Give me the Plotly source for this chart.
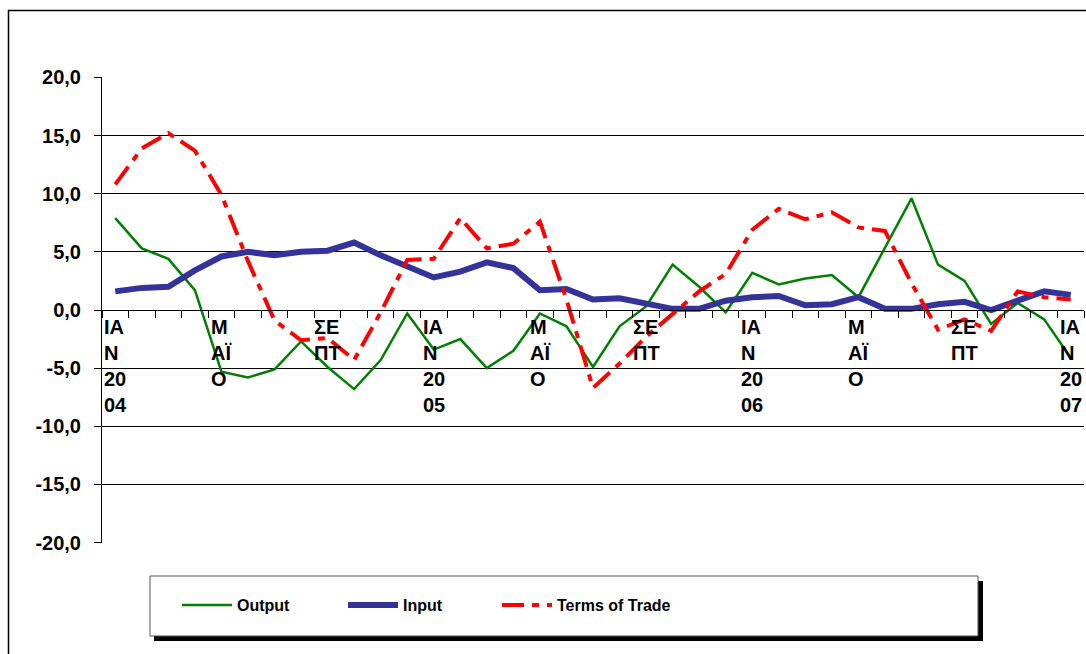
import plotly.graph_objects as go

months = [f"{y}-{m:02d}" for y in (2004, 2005, 2006) for m in range(1, 13)] + ["2007-01"]

output_vals = [7.9, 5.3, 4.4, 1.7, -5.3, -5.8, -5.1, -2.7, -4.9, -6.8, -4.3, -0.3,
               -3.4, -2.5, -5.0, -3.5, -0.3, -1.4, -4.9, -1.4, 0.3, 3.9, 2.0, -0.2,
               3.2, 2.2, 2.7, 3.0, 1.1, 5.4, 9.6, 3.9, 2.5, -1.2, 0.6, -0.8, -4.1]
input_vals = [1.6, 1.9, 2.0, 3.4, 4.6, 5.0, 4.7, 5.0, 5.1, 5.8, 4.7, 3.8,
              2.8, 3.3, 4.1, 3.6, 1.7, 1.8, 0.9, 1.0, 0.6, 0.1, 0.1, 0.8,
              1.1, 1.2, 0.4, 0.5, 1.1, 0.1, 0.1, 0.5, 0.7, 0.0, 0.8, 1.6, 1.3]
tot_vals = [10.8, 13.9, 15.2, 13.7, 9.9, 4.2, -0.9, -2.6, -2.4, -4.3, -0.2, 4.3,
            4.4, 7.9, 5.3, 5.7, 7.6, 0.9, -6.7, -4.6, -2.3, -0.3, 1.6, 3.1,
            6.9, 8.7, 7.8, 8.4, 7.1, 6.8, 2.3, -1.7, -0.8, -1.8, 1.6, 1.1, 0.9]

y_tick_vals = [-20, -15, -10, -5, 0, 5, 10, 15, 20]
y_tick_text = ["-20,0", "-15,0", "-10,0", "-5,0", "0,0", "5,0", "10,0", "15,0", "20,0"]

# category-axis labels (Greek month abbreviations, wrapped as in the original)
label_months = ["2004-01", "2004-05", "2004-09", "2005-01", "2005-05", "2005-09",
                "2006-01", "2006-05", "2006-09", "2007-01"]
label_texts = ["ΙΑ<br>Ν<br>20<br>04", "Μ<br>ΑΪ<br>Ο", "ΣΕ<br>ΠΤ",
               "ΙΑ<br>Ν<br>20<br>05", "Μ<br>ΑΪ<br>Ο", "ΣΕ<br>ΠΤ",
               "ΙΑ<br>Ν<br>20<br>06", "Μ<br>ΑΪ<br>Ο", "ΣΕ<br>ΠΤ",
               "ΙΑ<br>Ν<br>20<br>07"]

W, H = 1086, 654
L, T = 102, 77
R = W - 1084
B = H - 543
pw, ph = W - L - R, H - T - B

def px(x):  # page pixel -> paper x
    return (x - L) / pw

def py(y):  # page pixel -> paper y
    return (H - B - y) / ph

FONT = "Liberation Sans, Arial, sans-serif"
LEGFONT = dict(family=FONT, size=16, color="black", weight="bold")

fig = go.Figure()
fig.add_trace(go.Scatter(x=months, y=output_vals, name="Output", mode="lines",
                         line=dict(color="#008000", width=2.5), legend="legend"))
fig.add_trace(go.Scatter(x=months, y=input_vals, name="Input", mode="lines",
                         line=dict(color="#333399", width=6), legend="legend2"))
fig.add_trace(go.Scatter(x=months, y=tot_vals, name="Terms of Trade", mode="lines",
                         line=dict(color="#FF0000", width=4, dash="22px,8px,7px,8px"),
                         legend="legend3"))

shapes = [
    # outer chart border
    dict(type="rect", xref="paper", yref="paper", x0=px(8.5), x1=px(1100), y0=py(680), y1=py(10.5),
         line=dict(color="black", width=1.5), fillcolor="rgba(0,0,0,0)", layer="below"),
    # legend shadow and box
    dict(type="rect", xref="paper", yref="paper", x0=px(154), x1=px(983), y0=py(641), y1=py(581),
         line=dict(width=0), fillcolor="black", layer="below"),
    dict(type="rect", xref="paper", yref="paper", x0=px(150), x1=px(978), y0=py(636), y1=py(576),
         line=dict(color="#555555", width=1), fillcolor="white", layer="below"),
]

annotations = [
    dict(x=m, y=0, xref="x", yref="y", text=t, showarrow=False, xanchor="center",
         yanchor="top", align="left", yshift=-4,
         font=dict(family=FONT, size=20, color="black", weight="bold"))
    for m, t in zip(label_months, label_texts)
]

def leg(xpage):
    return dict(orientation="h", x=px(xpage), y=py(605), xanchor="left", yanchor="middle",
                bgcolor="rgba(0,0,0,0)", borderwidth=0, itemwidth=50, font=LEGFONT)

fig.update_layout(
    width=W, height=H,
    margin=dict(l=L, r=R, t=T, b=B),
    paper_bgcolor="white", plot_bgcolor="white",
    showlegend=True,
    legend=leg(177), legend2=leg(343), legend3=leg(497),
    shapes=shapes,
    annotations=annotations,
    xaxis=dict(type="category", range=[-0.5, 36.5], anchor="free", position=0.5,
               showline=True, linecolor="black", linewidth=1,
               ticks="outside", tickson="boundaries", ticklen=7, tickcolor="black",
               showticklabels=False, showgrid=False, zeroline=False),
    yaxis=dict(range=[-20.03, 20.03], tickmode="array", tickvals=y_tick_vals, ticktext=y_tick_text,
               showline=True, linecolor="black", linewidth=1,
               ticks="outside", ticklen=7, tickcolor="black", ticklabelstandoff=9,
               showgrid=True, gridcolor="black", gridwidth=1, zeroline=False,
               tickfont=dict(family=FONT, size=20, color="black", weight="bold")),
)

fig.write_html(
    "out.html",
    config={"displayModeBar": False},
    post_script="document.body.style.margin='0';document.body.style.overflow='hidden';",
)
